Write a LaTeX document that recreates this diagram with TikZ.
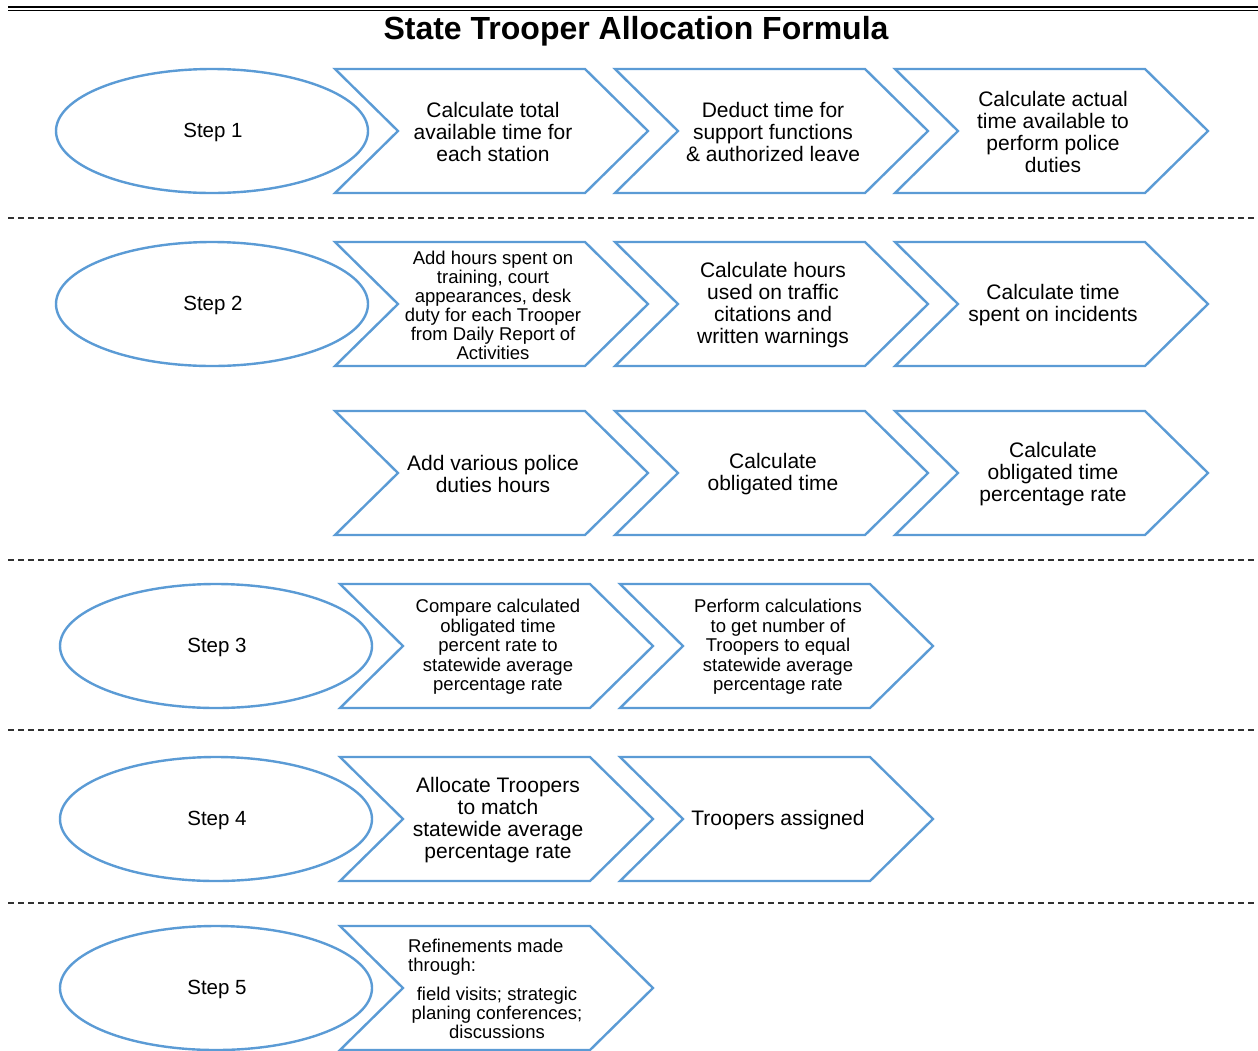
\documentclass[tikz,border=0pt]{standalone}
\usepackage{fontspec}
\setmainfont{Liberation Sans}
\usetikzlibrary{shapes.geometric}
\definecolor{chevblue}{RGB}{91,155,213}
\definecolor{rulegray}{RGB}{50,50,50}

% font sizes used in the boxes
\newcommand\fbig{\fontsize{21}{22}\selectfont}
\newcommand\fsmall{\fontsize{18.5}{19}\selectfont}
\newcommand\fmid{\fontsize{18.5}{19.5}\selectfont}

% chevron: name, left x, centre y, font, text
\newcommand\chevron[5]{%
  \draw[chevline] (#2,#3) ++(0,-62) -- ++(250,0) -- ++(63,62) -- ++(-63,62)
        -- ++(-250,0) -- ++(63,-62) -- cycle;
  \node[chevtext,font=#4] (#1) at (#2+158,#3) {#5};
}

\tikzset{
  chevline/.style={draw=chevblue, line width=2.4pt},
  chevtext/.style={align=center, inner sep=0pt, text=black, yshift=-1pt},
  stepell/.style={ellipse, draw=chevblue, line width=2.4pt, minimum width=312,
                  minimum height=124, inner sep=0pt},
  steplabel/.style={font=\fontsize{20.5}{22}\selectfont, yshift=-1.5pt, xshift=1pt, inner sep=0pt},
  divider/.style={draw=rulegray, line width=1.1pt, dash pattern=on 6pt off 4pt},
}

\begin{document}
\begin{tikzpicture}[x=1pt,y=-1pt]
\useasboundingbox (0,0) rectangle (1258,1050);
\clip (0,0) rectangle (1258,1050);

% header rules and title
\coordinate (hl) at (8,7);   \coordinate (hr) at (1258,7);
\coordinate (hl2) at (8,10); \coordinate (hr2) at (1258,10);
\draw[line width=2.2pt] (hl) -- (hr);
\draw[line width=1pt] (hl2) -- (hr2);
\node[font=\fontsize{32}{36}\selectfont\bfseries] (title) at (636,31) {State Trooper Allocation Formula};

% step 1
\node[stepell, label={[steplabel]center:Step 1}] (s1) at (212,131) {};
\chevron{a1}{335}{131}{\fbig}{Calculate total\\available time for\\each station}
\chevron{a2}{615}{131}{\fbig}{Deduct time for\\support functions\\\& authorized leave}
\chevron{a3}{895}{131}{\fbig}{Calculate actual\\time available to\\perform police\\duties}

\coordinate (d1l) at (8,218); \coordinate (d1r) at (1258,218);
\draw[divider] (d1l) -- (d1r);

% step 2
\node[stepell, label={[steplabel]center:Step 2}] (s2) at (212,304) {};
\chevron{b1}{335}{304}{\fsmall}{Add hours spent on\\training, court\\appearances, desk\\duty for each Trooper\\from Daily Report of\\Activities}
\chevron{b2}{615}{304}{\fbig}{Calculate hours\\used on traffic\\citations and\\written warnings}
\chevron{b3}{895}{304}{\fbig}{Calculate time\\spent on incidents}
\chevron{c1}{335}{473}{\fbig}{Add various police\\duties hours}
\chevron{c2}{615}{473}{\fbig}{Calculate\\obligated time}
\chevron{c3}{895}{473}{\fbig}{Calculate\\obligated time\\percentage rate}

\coordinate (d2l) at (8,560); \coordinate (d2r) at (1258,560);
\draw[divider] (d2l) -- (d2r);

% step 3
\node[stepell, label={[steplabel]center:Step 3}] (s3) at (216,646) {};
\chevron{e1}{340}{646}{\fmid}{Compare calculated\\obligated time\\percent rate to\\statewide average\\percentage rate}
\chevron{e2}{620}{646}{\fmid}{Perform calculations\\to get number of\\Troopers to equal\\statewide average\\percentage rate}

\coordinate (d3l) at (8,730); \coordinate (d3r) at (1258,730);
\draw[divider] (d3l) -- (d3r);

% step 4
\node[stepell, label={[steplabel]center:Step 4}] (s4) at (216,819) {};
\chevron{f1}{340}{819}{\fbig}{Allocate Troopers\\to match\\statewide average\\percentage rate}
\chevron{f2}{620}{819}{\fbig}{Troopers assigned}

\coordinate (d4l) at (8,903); \coordinate (d4r) at (1258,903);
\draw[divider] (d4l) -- (d4r);

% step 5
\node[stepell, label={[steplabel]center:Step 5}] (s5) at (216,988) {};
\draw[chevline] (340,926) -- ++(250,0) -- ++(63,62) -- ++(-63,62)
      -- ++(-250,0) -- ++(63,-62) -- cycle;
\node[chevtext, font=\fsmall, align=left, anchor=west] (g1) at (408,956)
      {Refinements made\\through:};
\node[chevtext, font=\fsmall] (g2) at (497,1012)
      {field visits; strategic\\planing conferences;\\discussions};
\end{tikzpicture}
\end{document}
